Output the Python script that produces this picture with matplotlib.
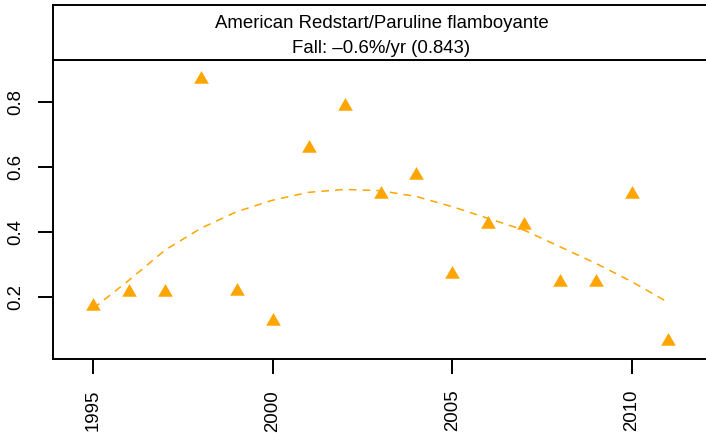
import matplotlib
matplotlib.use("Agg")
import matplotlib.pyplot as plt

# ---- data ----
years = [1995, 1996, 1997, 1998, 1999, 2000, 2001, 2002, 2003,
         2004, 2005, 2006, 2007, 2008, 2009, 2010, 2011]
index_values = [0.173, 0.215, 0.215, 0.870, 0.219, 0.128, 0.657, 0.787, 0.517,
                0.575, 0.271, 0.425, 0.422, 0.247, 0.247, 0.517, 0.065]
trend_values = [0.166, 0.253, 0.345, 0.412, 0.463, 0.498, 0.522, 0.531, 0.527,
                0.509, 0.478, 0.442, 0.406, 0.355, 0.304, 0.248, 0.185]
x_ticks = [1995, 2000, 2005, 2010]
y_ticks = [0.2, 0.4, 0.6, 0.8]
y_tick_labels = ["0.2", "0.4", "0.6", "0.8"]
title_line1 = "American Redstart/Paruline flamboyante"
title_line2 = "Fall: \u20130.6%/yr (0.843)"

plt.rcParams['font.family'] = ['Liberation Sans', 'DejaVu Sans']

W, H = 706, 443
fig = plt.figure(figsize=(W / 100, H / 100), dpi=100)

left_px, right_px = 53, 710
top_px, bottom_px = 60, 358.5
strip_top_px = 4.5

ax = fig.add_axes([left_px / W, 1 - bottom_px / H,
                   (right_px - left_px) / W, (bottom_px - top_px) / H])
strip = fig.add_axes([left_px / W, 1 - top_px / H,
                      (right_px - left_px) / W, (top_px - strip_top_px) / H])

orange = "#FFA500"
tri = [(0, 1), (-0.866, -0.5), (0.866, -0.5)]

ax.plot(years, trend_values, color=orange, lw=1.1, linestyle=(0, (5, 4)), zorder=2)
ax.plot(years, index_values, linestyle='none', marker=tri, markersize=12.2,
        color=orange, markeredgewidth=0, zorder=3)

ax.set_xlim(1993.877, 2012.178)
ax.set_ylim(0.0123, 0.9279)
ax.set_xticks(x_ticks)
ax.set_xticklabels([str(y) for y in x_ticks])
ax.set_yticks(y_ticks)
ax.set_yticklabels(y_tick_labels)

for s in ax.spines.values():
    s.set_linewidth(1.4)
ax.tick_params(axis='both', length=11, width=1.4, labelsize=13.4, color='black')
ax.tick_params(axis='y', labelrotation=90, pad=9.5)
ax.tick_params(axis='x', labelrotation=90, pad=11.5)
for lab in ax.get_yticklabels():
    lab.set_va('center')

strip.set_xticks([])
strip.set_yticks([])
for s in strip.spines.values():
    s.set_linewidth(1.4)
strip.set_xlim(0, 1)
strip.set_ylim(0, 1)
strip.text((381.5 - left_px) / (right_px - left_px), (top_px - 28.3) / (top_px - strip_top_px),
           title_line1, ha='center', va='baseline', fontsize=13.4)
strip.text((381.5 - left_px) / (right_px - left_px), (top_px - 53.3) / (top_px - strip_top_px),
           title_line2, ha='center', va='baseline', fontsize=13.4)

fig.savefig("out.png", dpi=100)
